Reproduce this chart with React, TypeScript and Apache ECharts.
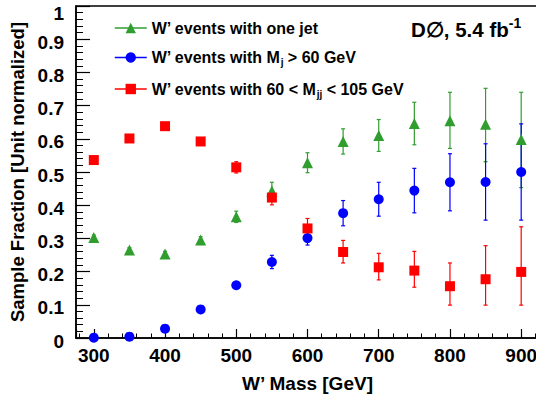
import React, { useEffect, useRef } from "react";
import * as echarts from "echarts";

const masses = [300, 350, 400, 450, 500, 550, 600, 650, 700, 750, 800, 850, 900];

const oneJet = [0.303, 0.265, 0.253, 0.295, 0.365, 0.443, 0.528, 0.592, 0.61, 0.646, 0.654, 0.644, 0.598];
const oneJetErrUp = [0.007, 0.007, 0.008, 0.01, 0.017, 0.026, 0.03, 0.038, 0.048, 0.064, 0.086, 0.108, 0.142];
const oneJetErrDown = [0.007, 0.007, 0.008, 0.01, 0.017, 0.026, 0.03, 0.038, 0.048, 0.064, 0.083, 0.113, 0.145];

const mjCut = [0.001, 0.004, 0.028, 0.086, 0.159, 0.229, 0.301, 0.376, 0.418, 0.444, 0.469, 0.47, 0.5];
const mjCutErrUp = [0.002, 0.003, 0.005, 0.007, 0.01, 0.02, 0.021, 0.038, 0.051, 0.067, 0.086, 0.115, 0.145];
const mjCutErrDown = [0.002, 0.003, 0.005, 0.007, 0.01, 0.02, 0.021, 0.038, 0.051, 0.067, 0.086, 0.115, 0.145];

const mjjWindow = [0.536, 0.601, 0.638, 0.592, 0.514, 0.423, 0.33, 0.259, 0.213, 0.203, 0.156, 0.177, 0.199];
const mjjWindowErrUp = [0.006, 0.006, 0.006, 0.008, 0.017, 0.022, 0.03, 0.035, 0.042, 0.058, 0.07, 0.101, 0.136];
const mjjWindowErrDown = [0.006, 0.006, 0.006, 0.008, 0.017, 0.022, 0.025, 0.033, 0.038, 0.05, 0.057, 0.078, 0.1];

const seriesNames = [
  "W’ events with one jet",
  "W’ events with M_j > 60 GeV",
  "W’ events with 60 < M_jj < 105 GeV",
];
const legendLabels: Record<string, string> = {
  [seriesNames[0]]: "{a|W’ events with one jet}",
  [seriesNames[1]]: "{a|W’ events with M}{sub|j}{a| > 60 GeV}",
  [seriesNames[2]]: "{a|W’ events with 60 < M}{sub|jj}{a| < 105 GeV}",
};

const GREEN = "#2f9e2f";
const BLUE = "#0000ff";
const RED = "#ff0000";
const FONT = "'Liberation Sans', Arial, Helvetica, sans-serif";

function errorSeries(name: string, vals: number[], up: number[], down: number[], color: string) {
  return {
    type: "custom",
    name: name + " err",
    data: masses.map((m, i) => [m, vals[i] - down[i], vals[i] + up[i]]),
    z: 1,
    renderItem: (params: any, api: any) => {
      const x = api.value(0);
      const lo = api.coord([x, api.value(1)]);
      const hi = api.coord([x, api.value(2)]);
      const cap = 2;
      const st = { stroke: color, lineWidth: 1.2 };
      return {
        type: "group",
        children: [
          { type: "line", shape: { x1: lo[0], y1: lo[1], x2: hi[0], y2: hi[1] }, style: st },
          { type: "line", shape: { x1: lo[0] - cap, y1: lo[1], x2: lo[0] + cap, y2: lo[1] }, style: st },
          { type: "line", shape: { x1: hi[0] - cap, y1: hi[1], x2: hi[0] + cap, y2: hi[1] }, style: st },
        ],
      };
    },
  };
}

function pointSeries(name: string, vals: number[], color: string, symbol: string, size: number) {
  return {
    type: "line",
    name,
    data: masses.map((m, i) => [m, vals[i]]),
    symbol,
    symbolSize: size,
    showSymbol: true,
    itemStyle: { color },
    lineStyle: { color, opacity: 0, width: 1.5 },
    z: 3,
  };
}

export default function App() {
  const ref = useRef<HTMLDivElement>(null);
  useEffect(() => {
    if (!ref.current) return;
    const chart = echarts.init(ref.current, undefined, { renderer: "svg" });
    chart.setOption({
      animation: false,
      backgroundColor: "#ffffff",
      grid: {
        left: 76,
        top: 6,
        width: 463,
        height: 332,
        show: true,
        borderColor: "#000",
        borderWidth: 1.5,
        containLabel: false,
        outerBoundsMode: "none",
      },
      legend: {
        data: seriesNames,
        orient: "vertical",
        left: 109,
        top: 15,
        itemWidth: 32,
        itemHeight: 13,
        itemGap: 13.5,
        lineStyle: { width: 1.5, opacity: 1 },
        formatter: (n: string) => legendLabels[n],
        textStyle: {
          rich: {
            a: { fontFamily: FONT, fontWeight: "bold", fontSize: 16, color: "#000", lineHeight: 20 },
            sub: { fontFamily: FONT, fontWeight: "bold", fontSize: 10, color: "#000", lineHeight: 10, verticalAlign: "bottom" },
          },
        },
      },
      graphic: [
        {
          type: "text",
          left: 411,
          top: 16,
          style: {
            text: "{a|D∅, 5.4 fb}{sup|-1}",
            rich: {
              a: { fontFamily: FONT, fontWeight: "bold", fontSize: 20.5, fill: "#000", lineHeight: 26 },
              sup: { fontFamily: FONT, fontWeight: "bold", fontSize: 14, fill: "#000", lineHeight: 14, verticalAlign: "top" },
            },
          },
        },
      ],
      xAxis: {
        type: "value",
        min: 275,
        max: 925,
        splitNumber: 5,
        name: "W’ Mass [GeV]",
        nameLocation: "middle",
        nameGap: 36,
        nameTextStyle: { fontFamily: FONT, fontWeight: "bold", fontSize: 19, color: "#000" },
        axisLine: { show: true, lineStyle: { color: "#000", width: 1.5 } },
        axisTick: { show: true, inside: true, length: 9, lineStyle: { color: "#000", width: 1.2 } },
        minorTick: { show: true, splitNumber: 5, length: 4.5, lineStyle: { color: "#000", width: 1 } },
        splitLine: { show: false },
        axisLabel: {
          fontFamily: FONT,
          fontWeight: "bold",
          fontSize: 19,
          color: "#000",
          margin: 8,
          showMinLabel: false,
          showMaxLabel: false,
          formatter: (v: number) => (v % 100 === 0 ? String(v) : ""),
        },
      },
      yAxis: {
        type: "value",
        min: 0,
        max: 1,
        interval: 0.1,
        name: "Sample Fraction [Unit normalized]",
        nameLocation: "middle",
        nameGap: 49,
        nameTextStyle: { fontFamily: FONT, fontWeight: "bold", fontSize: 18.5, color: "#000" },
        axisLine: { show: true, lineStyle: { color: "#000", width: 1.5 } },
        axisTick: { show: true, inside: true, length: 14, lineStyle: { color: "#000", width: 1.2 } },
        minorTick: { show: true, splitNumber: 5, length: 7, lineStyle: { color: "#000", width: 1 } },
        splitLine: { show: false },
        axisLabel: {
          fontFamily: FONT,
          fontWeight: "bold",
          fontSize: 19,
          color: "#000",
          margin: 12,
          padding: [6, 0, 0, 0],
          formatter: (v: number) => (v >= 0.999 ? "{t|1}" : String(Math.round(v * 10) / 10)),
          rich: {
            t: { fontFamily: FONT, fontWeight: "bold", fontSize: 19, color: "#000", padding: [8, 0, 0, 0] },
          },
        },
      },
      series: [
        errorSeries(seriesNames[0], oneJet, oneJetErrUp, oneJetErrDown, GREEN),
        errorSeries(seriesNames[1], mjCut, mjCutErrUp, mjCutErrDown, BLUE),
        errorSeries(seriesNames[2], mjjWindow, mjjWindowErrUp, mjjWindowErrDown, RED),
        pointSeries(seriesNames[0], oneJet, GREEN, "triangle", 11),
        pointSeries(seriesNames[1], mjCut, BLUE, "circle", 10),
        pointSeries(seriesNames[2], mjjWindow, RED, "rect", 10),
      ],
    });
    return () => chart.dispose();
  }, []);
  return <div ref={ref} style={{ width: 536, height: 402, position: "absolute", left: 0, top: 0 }} />;
}
